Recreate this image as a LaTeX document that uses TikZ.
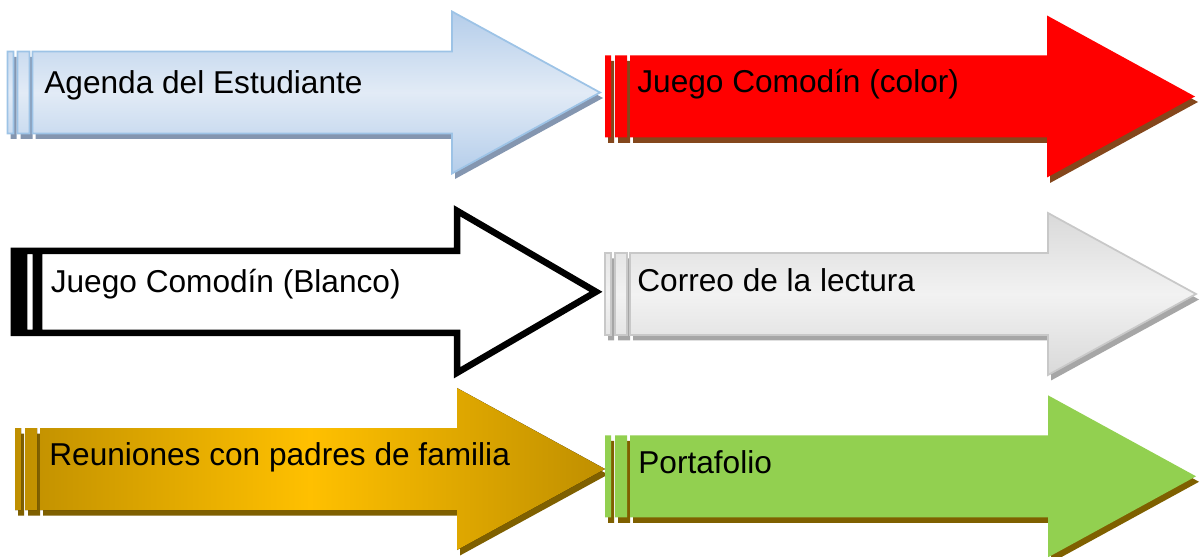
\documentclass[tikz,border=0pt]{standalone}
\usepackage{fontspec}
\setmainfont{Liberation Sans}
\definecolor{azul1}{HTML}{B4CDEA}
\definecolor{azul2}{HTML}{E2EBF6}
\definecolor{azulborde}{HTML}{9DC3E6}
\definecolor{sombraazul}{HTML}{8496B0}
\definecolor{rojo}{HTML}{FF0000}
\definecolor{sombraroja}{HTML}{84471C}
\definecolor{gris1}{HTML}{D9D9D9}
\definecolor{gris2}{HTML}{F2F2F2}
\definecolor{grisborde}{HTML}{C8C8C8}
\definecolor{sombragris}{HTML}{A6A6A6}
\definecolor{oro1}{HTML}{BF8F00}
\definecolor{oro2}{HTML}{FFC000}
\definecolor{sombraoro}{HTML}{7F6000}
\definecolor{verde}{HTML}{92D050}
% x0, y centre, base of the head, tip
\newcommand{\flecha}[4]{(#1,#2-41) rectangle ++(6,82) (#1+10,#2-41) rectangle ++(12,82)
  (#1+25,#2-41) -- (#3,#2-41) -- (#3,#2-81) -- (#4,#2) -- (#3,#2+81) -- (#3,#2+41) -- (#1+25,#2+41) -- cycle}

\begin{document}
\begin{tikzpicture}[x=0.02cm,y=-0.02cm]
\tikzstyle{etiqueta}=[anchor=base west,inner sep=0pt,font=\fontsize{18}{21}\selectfont]
\tikzstyle{sombra}=[shift={(3,5.5)}]
\useasboundingbox (0,0) rectangle (1201,557);
% row 1
\fill[sombra,sombraazul] \flecha{7.5}{92.5}{452}{600};
\draw[top color=azul1,bottom color=azul1,middle color=azul2,draw=azulborde,line width=1pt] \flecha{7.5}{92.5}{452}{600};
\node[etiqueta] (agenda) at (44,93.3) {Agenda del Estudiante};
\fill[sombra,sombraroja] \flecha{605}{96.5}{1047}{1195};
\fill[rojo] \flecha{605}{96.5}{1047}{1195};
\node[etiqueta] (color) at (637,93) {Juego Comodín (color)};
% row 2
\draw[fill=white,line width=3.7pt] \flecha{14}{291.8}{457}{596};
\node[etiqueta] (blanco) at (50.5,292.7) {Juego Comodín (Blanco)};
\fill[sombra,sombragris] \flecha{605}{294}{1048}{1196};
\draw[top color=gris1,bottom color=gris1,middle color=gris2,draw=grisborde,line width=1pt] \flecha{605}{294}{1048}{1196};
\node[etiqueta] (correo) at (637,292) {Correo de la lectura};
% row 3
\fill[sombra,sombraoro] \flecha{15}{469}{457}{605};
\fill[left color=oro1,right color=oro1,middle color=oro2] \flecha{15}{469}{457}{605};
\node[etiqueta] (reuniones) at (49,465) {Reuniones con padres de familia};
\fill[sombra,sombraoro] \flecha{605}{476.3}{1048}{1196};
\fill[verde] \flecha{605}{476.3}{1048}{1196};
\node[etiqueta] (portafolio) at (638,473.3) {Portafolio};
\end{tikzpicture}
\end{document}
